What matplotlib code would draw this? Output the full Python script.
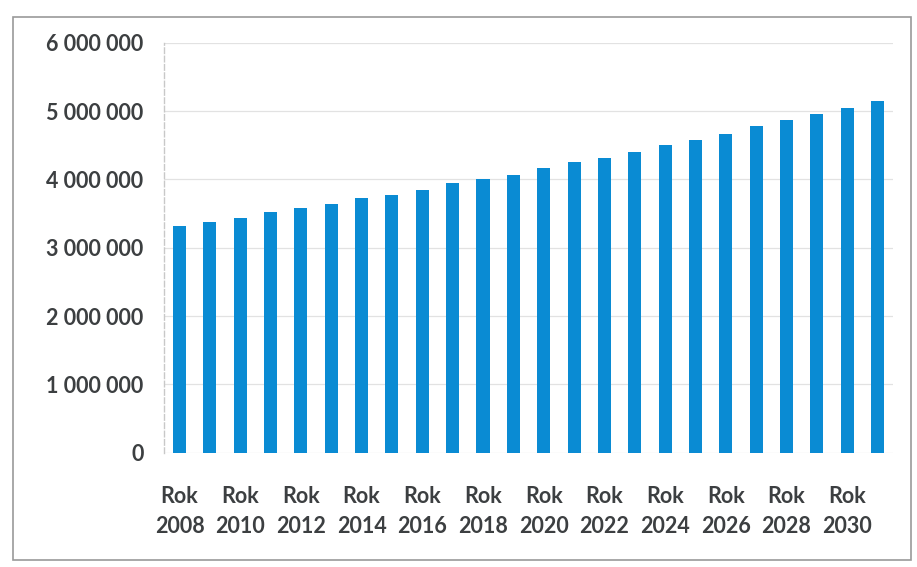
import matplotlib
matplotlib.use("Agg")
import matplotlib.pyplot as plt
from matplotlib.ticker import FuncFormatter, FixedLocator
from matplotlib.patches import Rectangle

years = [2008, 2009, 2010, 2011, 2012, 2013, 2014, 2015, 2016, 2017, 2018, 2019,
         2020, 2021, 2022, 2023, 2024, 2025, 2026, 2027, 2028, 2029, 2030, 2031]
values = [3320000, 3370000, 3440000, 3520000, 3580000, 3640000, 3720000, 3770000,
          3850000, 3940000, 4000000, 4070000, 4160000, 4250000, 4310000, 4400000,
          4500000, 4580000, 4670000, 4780000, 4870000, 4950000, 5040000, 5150000]
label_years = [2008, 2010, 2012, 2014, 2016, 2018, 2020, 2022, 2024, 2026, 2028, 2030]
y_ticks = [0, 1000000, 2000000, 3000000, 4000000, 5000000, 6000000]

bar_color = "#0a8bd3"
text_color = "#3c3f41"

plt.rcParams['font.family'] = ['Lato', 'DejaVu Sans']

fig = plt.figure(figsize=(9.17, 5.67), dpi=100)
ax = fig.add_axes([0.1792, 0.2016, 0.7943, 0.7231])

xpos = list(range(len(years)))
ax.bar(xpos, values, width=0.43, color=bar_color, zorder=3)

ax.set_xlim(-0.5, len(years) - 0.5)
ax.set_ylim(0, 6000000)

# y axis: space as thousands separator
ax.yaxis.set_major_locator(FixedLocator(y_ticks))
ax.yaxis.set_major_formatter(FuncFormatter(lambda v, p: f"{int(v):,}".replace(",", " ")))
ax.grid(axis="y", color="#e2e2e2", linewidth=0.9, zorder=0)

# x axis: label every other year
label_pos = [years.index(y) for y in label_years]
ax.set_xticks(label_pos)
ax.set_xticklabels([f"Rok\n{y}" for y in label_years])

ax.tick_params(axis="y", length=0, pad=15, labelsize=15.5, labelcolor=text_color)
ax.tick_params(axis="x", length=0, pad=24, labelsize=15.5, labelcolor=text_color)
for lab in ax.get_yticklabels() + ax.get_xticklabels():
    lab.set_fontweight("bold")
for lab in ax.get_xticklabels():
    lab.set_linespacing(1.5)

for side in ["top", "right", "bottom"]:
    ax.spines[side].set_visible(False)
ax.spines["left"].set_color("#c8c8c8")
ax.spines["left"].set_linestyle((0, (4, 2)))
ax.spines["left"].set_linewidth(1)

# scanned frame around the chart
fig.patches.append(Rectangle((0.014, 0.012), 0.98, 0.958, transform=fig.transFigure,
                             fill=False, edgecolor="#9a9a9a", linewidth=1.2))

fig.savefig("out.png", dpi=100)
